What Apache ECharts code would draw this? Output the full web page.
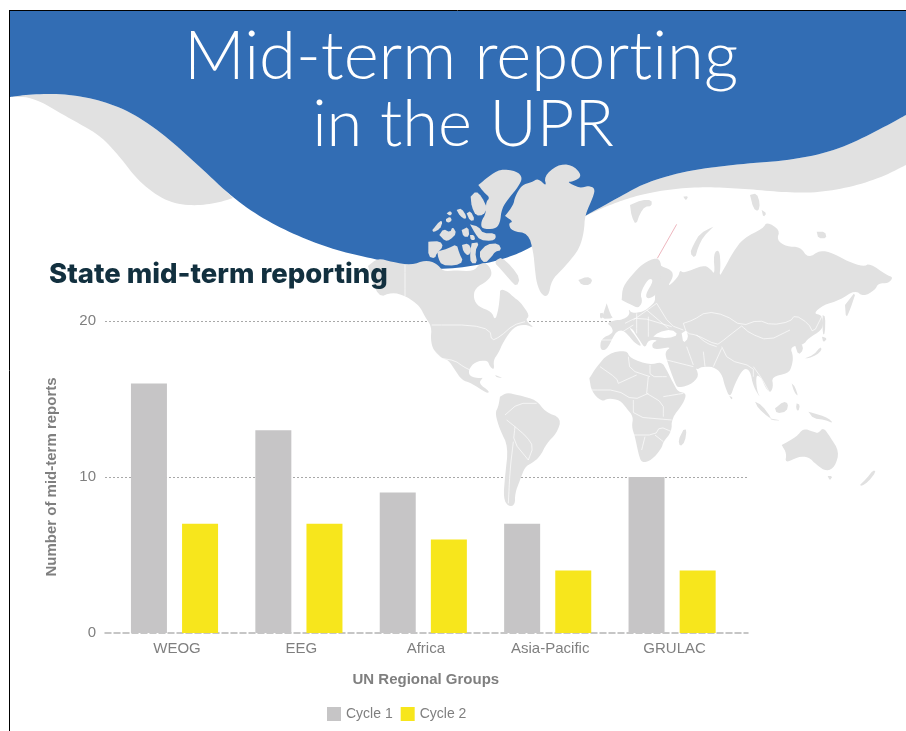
<!DOCTYPE html>
<html>
<head>
<meta charset="utf-8">
<title>Mid-term reporting in the UPR</title>
<script src="https://cdn.jsdelivr.net/npm/echarts@6/dist/echarts.min.js"></script>
<style>
html, body { margin: 0; padding: 0; background: #fff; }
#chart { width: 906px; height: 731px; }
</style>
</head>
<body>
<div id="chart"></div>
<script>
var categories = ['WEOG', 'EEG', 'Africa', 'Asia-Pacific', 'GRULAC'];
var cycle1 = [16, 13, 9, 7, 10];
var cycle2 = [7, 7, 6, 4, 4];
var seriesNames = ['Cycle 1', 'Cycle 2'];

var BLUE = '#326db4';
var LAND = '#e1e1e1';
var AXIS_TEXT = '#7f7f7f';

// header waves, page pixels
var blueEdge = [[10, 97], [33, 94], [67, 94], [100, 100], [133, 113], [167, 137], [200, 167], [233, 198], [265, 220], [300, 237], [335, 250], [370, 258], [400, 265], [440, 270], [480, 265], [510, 257], [530, 248], [583, 217], [623, 195], [647, 182], [690, 170], [740, 164], [793, 160], [837, 150], [873, 133], [906, 115]];
var leftWaveLower = [[10, 97], [33, 97], [67, 117], [100, 135], [120, 157], [140, 183], [167, 202], [193, 206], [217, 203], [233, 198]];
var rightWaveLower = [[605, 207], [623, 200], [647, 193], [680, 188], [713, 187], [747, 189], [780, 192], [813, 193], [847, 188], [880, 178], [906, 165]];

// map outlines, measured at 3x with the origin at page (400, 170)
var land = [
    // alaska, canada, usa, central america
    [[-96, 288], [-66, 264], [-24, 276], [35, 285], [75, 270], [110, 280], [130, 305], [165, 300], [220, 305], [240, 280], [262, 280], [278, 310], [262, 333], [225, 355], [220, 385], [235, 410], [275, 425], [285, 452], [295, 420], [300, 375], [300, 358], [320, 362], [345, 385], [360, 395], [390, 437], [375, 450], [405, 475], [375, 462], [340, 472], [310, 515], [295, 550], [280, 570], [283, 600], [270, 590], [262, 570], [225, 575], [205, 600], [210, 620], [240, 625], [250, 622], [235, 640], [270, 665], [260, 670], [215, 640], [185, 630], [165, 600], [145, 570], [125, 565], [100, 540], [92, 510], [95, 470], [75, 440], [60, 410], [35, 390], [15, 378], [-24, 366], [-66, 384]],
    // baffin
    [[290, 270], [305, 262], [335, 290], [360, 325], [350, 350], [330, 330], [300, 295], [285, 280]],
    // ellesmere and neighbours
    [[235, 45], [265, 20], [300, -3], [350, 3], [368, 23], [355, 50], [330, 80], [305, 115], [300, 160], [285, 177], [245, 177], [243, 155], [258, 130], [258, 95], [270, 83], [250, 65]],
    [[212, 80], [228, 63], [245, 80], [262, 115], [250, 135], [228, 137], [215, 110]],
    [[85, 215], [120, 213], [130, 230], [110, 250], [105, 265], [85, 260]],
    [[112, 245], [145, 235], [170, 223], [178, 250], [190, 275], [165, 287], [125, 285], [115, 265]],
    [[97, 180], [120, 152], [128, 155], [120, 177], [100, 187]],
    [[140, 130], [150, 123], [157, 130], [150, 138]],
    [[138, 147], [150, 140], [156, 150], [148, 158], [138, 155]],
    [[170, 120], [185, 115], [200, 140], [195, 148], [180, 138]],
    [[200, 130], [212, 123], [225, 150], [210, 153]],
    [[118, 195], [130, 177], [150, 187], [158, 170], [170, 190], [150, 210], [135, 213]],
    [[185, 180], [205, 170], [208, 200], [190, 200]],
    [[210, 163], [235, 170], [250, 190], [285, 190], [288, 205], [275, 213], [240, 210], [225, 190]],
    [[210, 195], [222, 195], [226, 210], [212, 210]],
    [[186, 225], [205, 220], [215, 240], [205, 258], [190, 245]],
    [[215, 220], [238, 217], [225, 245], [232, 280], [212, 280], [210, 250]],
    [[240, 245], [260, 223], [295, 220], [305, 240], [285, 245], [275, 260], [255, 280], [240, 265]],
    // greenland
    [[315, 138], [340, 105], [345, 80], [365, 45], [395, 37], [415, 25], [440, 50], [432, 20], [470, -15], [515, -17], [548, 17], [520, 35], [500, 35], [540, 55], [565, 47], [585, 55], [580, 80], [555, 135], [552, 185], [540, 230], [520, 260], [485, 300], [455, 330], [445, 380], [425, 375], [410, 340], [405, 300], [400, 245], [385, 190], [335, 183], [325, 160], [340, 155]],
    // iceland
    [[535, 330], [560, 320], [578, 328], [570, 345], [545, 345]],
    // svalbard, franz josef, severnaya, novaya zemlya
    [[690, 105], [725, 90], [755, 90], [755, 108], [735, 110], [720, 130], [708, 165], [695, 140]],
    [[850, 80], [865, 78], [858, 92]],
    [[1050, 75], [1070, 70], [1080, 100], [1075, 125], [1060, 115]],
    [[1085, 120], [1100, 130], [1090, 142]],
    [[940, 170], [900, 190], [880, 225], [870, 250], [885, 265], [895, 230], [910, 200]],
    [[1250, 185], [1275, 185], [1280, 205], [1255, 205]],
    // eurasia
    [[770, 265], [775, 285], [815, 300], [820, 320], [805, 345], [810, 345], [835, 320], [840, 300], [850, 310], [910, 285], [930, 295], [945, 315], [940, 250], [958, 238], [962, 285], [958, 320], [970, 300], [1000, 245], [1030, 205], [1090, 175], [1100, 155], [1140, 180], [1130, 210], [1160, 230], [1200, 230], [1225, 265], [1260, 240], [1300, 250], [1345, 275], [1390, 290], [1410, 280], [1460, 315], [1480, 322], [1465, 340], [1435, 340], [1425, 360], [1390, 380], [1365, 360], [1320, 390], [1270, 405], [1240, 430], [1265, 435], [1270, 460], [1265, 480], [1225, 505], [1210, 525], [1170, 530], [1180, 560], [1175, 590], [1165, 610], [1115, 620], [1120, 650], [1110, 670], [1095, 650], [1085, 625], [1068, 612], [1070, 660], [1082, 685], [1060, 650], [1050, 600], [1030, 595], [1005, 640], [990, 685], [975, 650], [965, 610], [940, 590], [905, 590], [890, 600], [880, 585], [860, 560], [900, 610], [880, 640], [835, 655], [825, 640], [800, 570], [795, 545], [815, 530], [760, 540], [755, 520], [775, 510], [745, 510], [735, 535], [722, 515], [705, 490], [700, 480], [685, 470], [715, 510], [725, 530], [705, 520], [680, 490], [665, 480], [650, 485], [640, 500], [620, 540], [600, 540], [603, 505], [640, 490], [635, 470], [620, 460], [645, 450], [665, 450], [690, 435], [685, 415], [695, 430], [730, 425], [750, 410], [765, 395], [765, 375], [770, 330]],
    // korea
    [[1185, 525], [1205, 520], [1210, 540], [1195, 555]],
    // scandinavia
    [[665, 390], [668, 350], [700, 310], [730, 280], [770, 262], [785, 280], [780, 330], [772, 372], [745, 388], [735, 375], [762, 330], [745, 325], [720, 370], [728, 395], [715, 415], [695, 405]],
    // britain, ireland
    [[620, 400], [632, 435], [640, 445], [605, 447], [612, 425]],
    [[600, 430], [610, 428], [608, 445], [600, 445]],
    // africa
    [[568, 625], [590, 590], [625, 550], [680, 540], [690, 565], [750, 585], [785, 575], [800, 600], [825, 650], [835, 665], [860, 670], [850, 700], [815, 745], [815, 785], [790, 815], [785, 835], [755, 870], [725, 880], [715, 850], [705, 800], [695, 770], [700, 740], [680, 715], [660, 690], [625, 685], [605, 695], [575, 665]],
    [[850, 780], [860, 778], [855, 815], [840, 830], [835, 810]],
    // south america
    [[300, 680], [320, 668], [355, 675], [410, 690], [435, 725], [485, 745], [470, 790], [440, 820], [420, 860], [395, 880], [375, 890], [360, 930], [345, 970], [345, 1005], [325, 1010], [310, 985], [315, 920], [325, 830], [300, 780], [285, 730], [295, 710]],
    // australia, tasmania, new zealand
    [[1145, 825], [1190, 800], [1210, 775], [1240, 785], [1255, 790], [1270, 772], [1290, 800], [1318, 845], [1305, 890], [1280, 905], [1250, 885], [1225, 860], [1195, 860], [1155, 880], [1160, 850]],
    [[1283, 918], [1297, 918], [1290, 932]],
    [[1380, 945], [1400, 925], [1420, 900], [1428, 905], [1405, 935], [1385, 948]],
    // asia islands
    [[1225, 725], [1260, 735], [1285, 745], [1300, 760], [1275, 750], [1240, 745]],
    [[1065, 695], [1085, 705], [1115, 745], [1105, 742], [1075, 715]],
    [[1110, 745], [1145, 752], [1115, 750]],
    [[1125, 715], [1150, 695], [1165, 700], [1160, 725], [1130, 730]],
    [[1190, 700], [1200, 705], [1195, 725], [1188, 715]],
    [[1175, 640], [1185, 650], [1195, 680], [1182, 665]],
    [[988, 678], [998, 682], [995, 690]],
    [[1215, 565], [1240, 555], [1262, 530], [1265, 540], [1250, 555], [1225, 565]],
    [[1266, 500], [1282, 505], [1270, 518]],
    [[1268, 435], [1276, 440], [1275, 490], [1268, 495]],
    [[1335, 405], [1370, 360], [1350, 420], [1338, 445]],
    [[285, 615], [310, 625], [290, 622]]
];
// seas that cut into the land outlines
var seas = [
    [[760, 500], [775, 487], [815, 478], [835, 495], [805, 505]],
    [[845, 490], [860, 480], [865, 505], [850, 520]]
];
var borders = [
    [[15, 285], [15, 378]],
    [[95, 465], [215, 465], [270, 480], [275, 512], [300, 500], [340, 465], [375, 455]],
    [[125, 565], [165, 572], [190, 590], [210, 600]],
    [[850, 460], [880, 450], [920, 425], [975, 435], [1025, 468], [1075, 450], [1115, 465], [1170, 455], [1185, 435], [1225, 460], [1240, 490], [1265, 440]],
    [[1025, 468], [1050, 490], [1105, 512], [1170, 480]],
    [[1025, 468], [990, 495], [965, 515], [950, 525], [890, 495], [860, 490], [850, 460]],
    [[890, 495], [920, 520], [950, 530]],
    [[965, 530], [985, 570], [1060, 590], [1060, 620]],
    [[965, 535], [940, 590]],
    [[910, 545], [915, 590]],
    [[860, 530], [880, 585]],
    [[800, 570], [880, 590]],
    [[675, 460], [715, 440], [815, 470]],
    [[700, 450], [770, 400]],
    [[740, 420], [805, 475]],
    [[660, 490], [700, 465]],
    [[770, 400], [810, 465], [850, 480]],
    [[710, 430], [710, 490]],
    [[745, 440], [745, 500]],
    [[605, 510], [650, 510]],
    [[600, 590], [650, 625], [655, 640]],
    [[685, 560], [690, 600], [750, 620]],
    [[750, 585], [750, 620], [800, 620]],
    [[745, 620], [740, 670]],
    [[655, 640], [710, 615]],
    [[575, 660], [650, 660], [700, 690], [745, 670]],
    [[790, 680], [850, 670]],
    [[700, 690], [700, 740], [815, 750]],
    [[740, 670], [790, 700], [790, 740]],
    [[695, 795], [765, 795], [780, 770], [815, 785]],
    [[725, 840], [735, 800]],
    [[765, 795], [790, 815]],
    [[315, 735], [355, 700], [410, 700]],
    [[320, 750], [345, 770], [380, 800], [400, 830], [385, 870]],
    [[345, 770], [340, 815], [385, 870]],
    [[340, 815], [330, 900], [325, 1000]],
    [[125, 565], [100, 540]],
    [[1060, 590], [1085, 625], [1110, 670]]
];

// corner cutting so the hand measured edges read as curves
function soften(points, passes) {
    var out = points;
    for (var pass = 0; pass < passes; pass++) {
        var next = [out[0]];
        for (var i = 0; i < out.length - 1; i++) {
            var a = out[i], b = out[i + 1];
            next.push([a[0] * 0.75 + b[0] * 0.25, a[1] * 0.75 + b[1] * 0.25]);
            next.push([a[0] * 0.25 + b[0] * 0.75, a[1] * 0.25 + b[1] * 0.75]);
        }
        next.push(out[out.length - 1]);
        out = next;
    }
    return out;
}

// small islands lose too much area with a second pass
function softenClosed(points) {
    return soften(points.concat([points[0]]), points.length < 12 ? 1 : 2);
}

function fillShape(points, color) {
    return { type: 'polygon', z: 1, silent: true, shape: { points: points }, style: { fill: color } };
}

function buildBackground() {
    var softBlue = soften(blueEdge, 3);
    var blueShape = [[10, 11], [906, 11]].concat(softBlue.slice().reverse());
    var leftWave = soften(blueEdge.slice(0, 8), 3).concat(soften(leftWaveLower, 3).reverse());
    var rightWave = soften(blueEdge.slice(17), 3).concat([[906, 165]]).concat(soften(rightWaveLower, 3).reverse());

    var mapChildren = [];
    land.forEach(function (poly) {
        mapChildren.push(fillShape(softenClosed(poly), LAND));
    });
    seas.forEach(function (poly) {
        mapChildren.push(fillShape(softenClosed(poly), '#fff'));
    });
    borders.forEach(function (line) {
        mapChildren.push({
            type: 'polyline', z: 1, silent: true,
            shape: { points: soften(line, 1) },
            style: { stroke: '#fff', lineWidth: 2, fill: null }
        });
    });
    mapChildren.push({
        type: 'line', z: 1, silent: true,
        shape: { x1: 830, y1: 163, x2: 772, y2: 265 },
        style: { stroke: '#e8a3ad', lineWidth: 2.4 }
    });

    return [
        fillShape(leftWave, LAND),
        fillShape(rightWave, LAND),
        fillShape(blueShape, BLUE),
        { type: 'group', x: 400, y: 170, scaleX: 1 / 3, scaleY: 1 / 3, silent: true, children: mapChildren },
        { type: 'line', z: 3, silent: true, shape: { x1: 9.5, y1: 10, x2: 9.5, y2: 731 }, style: { stroke: '#000', lineWidth: 1 } },
        { type: 'line', z: 3, silent: true, shape: { x1: 9, y1: 10.5, x2: 906, y2: 10.5 }, style: { stroke: '#000', lineWidth: 1 } }
    ];
}

var chart = echarts.init(document.getElementById('chart'), null, { renderer: 'canvas' });
// the reference has no "ti" ligature in its title
chart.getZr().painter.getLayer(0).ctx.textRendering = 'optimizeSpeed';

var option = {
    animation: false,
    backgroundColor: '#fff',
    title: [
        {
            text: 'Mid-term reporting',
            left: 456, top: 19, textAlign: 'center',
            textStyle: { color: '#fff', fontFamily: 'Lato', fontWeight: 300, fontSize: 67 }
        },
        {
            text: 'in the UPR',
            left: 458, top: 88, textAlign: 'center',
            textStyle: { color: '#fff', fontFamily: 'Lato', fontWeight: 300, fontSize: 65 }
        },
        {
            text: 'State mid-term reporting',
            left: 49, top: 261, padding: 0,
            textStyle: { color: '#12303f', fontFamily: 'Inter', fontWeight: 800, fontSize: 27.5 }
        }
    ],
    legend: {
        left: 322, top: 702,
        itemWidth: 14, itemHeight: 14, itemGap: 8,
        icon: 'rect',
        data: seriesNames,
        textStyle: { color: AXIS_TEXT, fontFamily: 'Liberation Sans', fontSize: 14 }
    },
    grid: [
        { left: 112.3, width: 622, top: 321, height: 312 },
        { left: 105, width: 643, top: 321, height: 312 }
    ],
    xAxis: [
        {
            type: 'category', gridIndex: 0, data: categories, z: 0,
            axisLine: { show: false },
            axisTick: { show: false },
            axisLabel: {
                color: AXIS_TEXT, fontFamily: 'Liberation Sans', fontSize: 15,
                margin: 8, padding: [0, 0, 0, 5]
            },
            name: 'UN Regional Groups',
            nameLocation: 'middle',
            nameGap: 39,
            nameTextStyle: { color: AXIS_TEXT, fontFamily: 'Liberation Sans', fontWeight: 'bold', fontSize: 15, padding: [0, 0, 0, 5] }
        },
        {
            type: 'category', gridIndex: 1, data: categories, z: 0,
            axisLine: { show: true, lineStyle: { color: '#b4b4b4', width: 1.5, type: [6, 3] } },
            axisTick: { show: false },
            axisLabel: { show: false }
        }
    ],
    yAxis: [
        { type: 'value', gridIndex: 0, min: 0, max: 20, interval: 10, show: false, splitLine: { show: false } },
        {
            type: 'value', gridIndex: 1, min: 0, max: 20, interval: 10, z: 0,
            axisLine: { show: false },
            axisTick: { show: false },
            axisLabel: { color: AXIS_TEXT, fontFamily: 'Liberation Sans', fontSize: 15, margin: 9 },
            splitLine: { show: true, showMinLine: false, lineStyle: { color: '#a8a8a8', width: 1, type: [2, 2] } },
            name: 'Number of mid-term reports',
            nameLocation: 'middle',
            nameGap: 46,
            nameTextStyle: { color: AXIS_TEXT, fontFamily: 'Liberation Sans', fontWeight: 'bold', fontSize: 15 }
        }
    ],
    graphic: { elements: buildBackground() },
    series: [
        {
            name: seriesNames[0], type: 'bar', xAxisIndex: 0, yAxisIndex: 0,
            data: cycle1, barWidth: 36, barGap: '42%',
            itemStyle: { color: '#c6c5c6' }
        },
        {
            name: seriesNames[1], type: 'bar', xAxisIndex: 0, yAxisIndex: 0,
            data: cycle2, barWidth: 36, barGap: '42%',
            itemStyle: { color: '#f7e61c' }
        }
    ]
};

chart.setOption(option);
</script>
</body>
</html>
